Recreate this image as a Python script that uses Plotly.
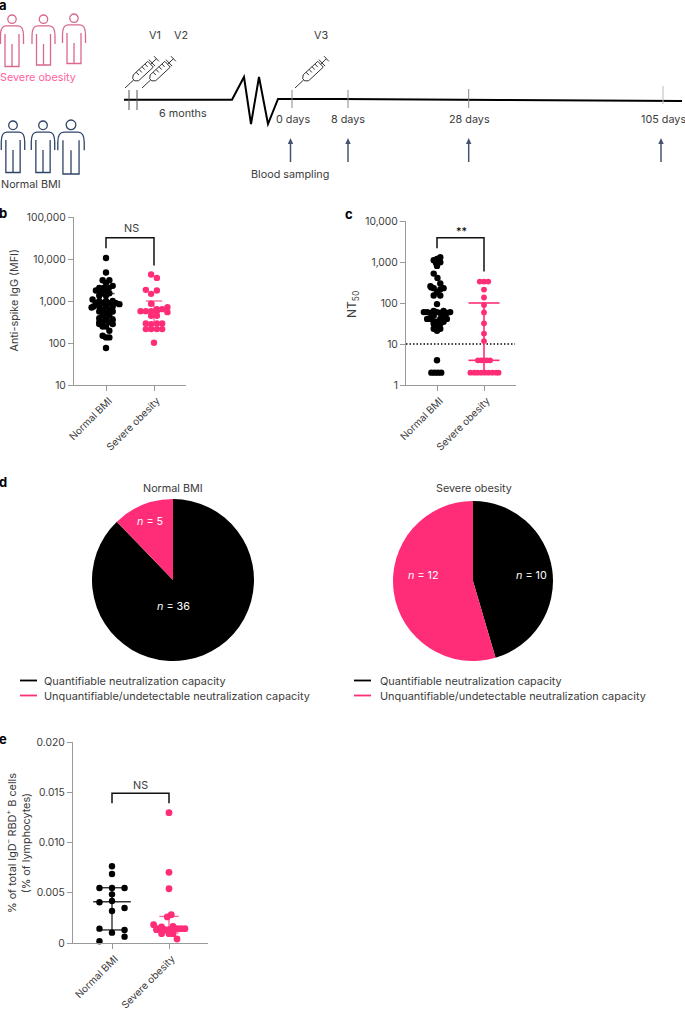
import math
import plotly.graph_objects as go

## panel b
b_norm_vals = [10600, 4760, 3126, 3126, 2703, 2293, 2056, 2056, 2056, 1775, 1775, 1775, 1535, 1535, 1351, 1351,
               1086, 1009, 1009, 1009, 889, 889, 889, 889, 841, 740, 740, 740, 740, 701, 617, 617, 563, 563, 514,
               452, 452, 391, 357, 357, 314, 314, 314, 282, 282, 248, 248, 195, 149, 136, 136, 76]
b_norm_off = [0, 0, -.07, .07, 0, .14, -.14, -.05, .06, -.21, -.12, 0, -.07, .07, -.14, 0,
              -.28, -.14, 0, .14, -.21, -.07, .07, .21, .28, -.26, -.14, 0, .14, -.30, -.07, .07, -.14, .14, 0,
              -.07, .07, -.14, 0, .14, -.14, -.07, .07, -.14, .14, -.07, 0, .07, -.07, 0, .07, 0]
b_sev_vals = [4266, 3550, 1841, 1775, 1480, 857, 713, 640, 640, 573, 573, 573, 573, 543, 445, 445,
              292, 292, 292, 280, 214, 214, 214, 214, 101]
b_sev_off = [-.06, .06, -.17, .06, -.06, -.06, .28, .06, .17, -.28, -.17, -.06, .06, .28, -.06, .06,
             -.17, .06, .17, -.06, -.17, -.06, .06, .17, 0]
b_norm_bar = [420, 800, 1500]
b_sev_bar = [290, 570, 1000]

## panel c
c_norm_vals = [1305, 1189, 1100, 986, 950, 803, 522, 410, 298, 257, 230, 230, 215, 240, 183, 152, 152, 94,
               64, 64, 60, 60, 60, 60, 57, 57, 57, 49, 49, 41, 41, 41, 41, 35, 35, 35, 31, 31, 27, 23.5, 23.5, 21,
               4, 2, 2, 2, 2]
c_norm_off = [.07, 0, -.07, .07, -.02, 0, -.07, .01, .07, -.14, -.07, .14, .07, -.12, 0, -.07, .07, 0,
              -.07, .14, -.28, -.21, 0, .28, -.14, .07, .21, -.07, .14, -.21, -.14, .07, .21, -.07, 0, .14, -.07, .07, 0, -.07, .07, 0,
              0, -.12, -.05, .02, .09]
c_sev_vals = [334, 334, 334, 213, 136, 90, 59, 32, 18, 11.8, 4, 4, 4, 4, 4,
              2, 2, 2, 2, 2, 2, 2, 2, 2]
c_sev_off = [-.09, 0, .09, 0, 0, 0, 0, 0, 0, 0, -.13, -.06, 0, .06, .13,
             -.29, -.21, -.14, -.06, .02, .1, .18, .26, .31]
c_sev_bar = [2, 4, 100]
c_limit = 10

## panel d
d_labels = ['Quantifiable neutralization capacity', 'Unquantifiable/undetectable neutralization capacity']
d_norm = [36, 5]
d_sev = [10, 12]

## panel e
e_norm_vals = [.00763, .00687, .00547, .00547, .00547, .00484, .00418, .00405, .00348, .00318, .00143, .00129, .00103, .00063, .00017]
e_norm_off = [0, 0, -.22, 0, .22, 0, 0, -.22, .22, 0, -.22, .22, 0, .22, -.22]
e_sev_vals = [.01297, .00703, .0054, .00282, .00259, .00182, .00166, .00159, .00143, .00143, .00143, .00143, .00133, .00133, .00133,
              .00123, .00123, .00113, .00093, .00093, .00093, .0004]
e_sev_off = [0, 0, 0, .04, -.03, -.27, .07, -.13, .28, .21, .14, -.21, -.22, -.07, 0,
             -.13, .07, 0, -.13, 0, .07, .14]
e_norm_bar = [.0013, .0041, .0055]
e_sev_bar = [.0010, .0014, .00265]

cats = ['Normal BMI', 'Severe obesity']
black = '#000000'
pink = '#ff2d78'
pink2 = '#ff6a9c'
navy = '#2f4468'
grey = '#9a9a9a'
txt = '#3c3c3c'
font = 'Inter'

fig = go.Figure()


def dots(x0, vals, off, col, ax, size=6.4):
    fig.add_trace(go.Scatter(x=[x0 + o for o in off], y=vals, mode='markers', xaxis='x' + ax, yaxis='y' + ax,
                             marker=dict(color=col, size=size, line=dict(width=0)), cliponaxis=False))


def bars(x0, bar, col, ax, w_mid, w_cap, lw=1.4):
    lo, mid, hi = bar
    xs = [x0, x0, None, x0 - w_mid, x0 + w_mid, None, x0 - w_cap, x0 + w_cap, None, x0 - w_cap, x0 + w_cap]
    ys = [lo, hi, None, mid, mid, None, lo, lo, None, hi, hi]
    fig.add_trace(go.Scatter(x=xs, y=ys, mode='lines', xaxis='x' + ax, yaxis='y' + ax,
                             line=dict(color=col, width=lw), cliponaxis=False))


def bracket(ys, ax):
    fig.add_trace(go.Scatter(x=[0, 0, 1, 1], y=ys, mode='lines', xaxis='x' + ax, yaxis='y' + ax,
                             line=dict(color='#111111', width=1.5), cliponaxis=False))


# b
bars(0, b_norm_bar, '#555555', '', .3, .18)
bars(1, b_sev_bar, pink2, '', .17, .17)
dots(0, b_norm_vals, b_norm_off, black, '')
dots(1, b_sev_vals, b_sev_off, pink, '')
bracket([18000, 32000, 32000, 7000], '')

# c
fig.add_trace(go.Scatter(x=[-.66, 1.66], y=[c_limit, c_limit], mode='lines', xaxis='x2', yaxis='y2',
                         line=dict(color=black, width=1.5, dash='1.5px,2px')))
bars(1, c_sev_bar, pink, '2', .33, .33, 1.6)
dots(0, c_norm_vals, c_norm_off, black, '2')
dots(1, c_sev_vals, c_sev_off, pink, '2', 5.8)
bracket([2160, 3900, 3900, 584], '2')

# e
bars(0, e_norm_bar, '#333333', '3', .33, .22)
bars(1, e_sev_bar, pink2, '3', .17, .17)
dots(0, e_norm_vals, e_norm_off, black, '3')
dots(1, e_sev_vals, e_sev_off, pink, '3', 6.8)
bracket([.0139, .0149, .0149, .0139], '3')


# d pies, centres and radius in page pixels
def pie(vals, cx, cy, r):
    fig.add_trace(go.Pie(values=vals, labels=d_labels, sort=False, direction='clockwise', rotation=0,
                         marker=dict(colors=[black, pink], line=dict(width=0)), textinfo='none',
                         domain=dict(x=[(cx - r) / 685, (cx + r) / 685], y=[1 - (cy + r) / 1009, 1 - (cy - r) / 1009])))


pie(d_norm, 173, 580, 81)
pie(d_sev, 473, 581, 80)


def yax(top, bot, **kw):
    return dict(domain=[1 - bot / 1009, 1 - top / 1009], showline=True, linecolor=grey, linewidth=1.2, ticks='outside',
                ticklen=5, tickcolor=grey, tickfont=dict(family=font, size=10.3, color=txt), showgrid=False,
                zeroline=False, automargin=False, **kw)


def xax(left, right, c0, c1):
    step = c1 - c0
    return dict(domain=[left / 685, right / 685], range=[(left - c0) / step, (right - c0) / step], tickvals=[0, 1],
                ticktext=cats, tickangle=-45, showline=True, linecolor=grey, linewidth=1.2, ticks='outside', ticklen=5,
                tickcolor=grey, tickfont=dict(family=font, size=10, color=txt), showgrid=False, zeroline=False,
                automargin=False, ticklabelshift=3)


# whole page overlay in pixels for the schematic and the texts
P = dict(xref='x4', yref='y4')
shapes = []
ann = []


def line(xs, ys, col=black, w=1.0):
    d = 'M' + ' L'.join(f'{a:.1f},{b:.1f}' for a, b in zip(xs, ys))
    shapes.append(dict(type='path', path=d, line=dict(color=col, width=w), **P))


def text(x, y, s, size=10.8, col=txt, anchor='center', angle=0, bold=False):
    # left anchored annotations sit 3px in from their x
    ann.append(dict(x=x, y=y, text=f'<b>{s}</b>' if bold else s, showarrow=False, xanchor=anchor, yanchor='middle',
                    xshift=-3 if anchor == 'left' else 0, textangle=angle,
                    font=dict(family=font, size=size, color=col), **P))


def person(cx, top, bot, col, k=1.0):
    r = 4.2 * k
    hy = top + r
    shapes.append(dict(type='circle', x0=cx - r, x1=cx + r, y0=hy - r, y1=hy + r, line=dict(color=col, width=1.3), **P))
    sy = hy + r + 2.5
    ax = 11.5 * k
    path = (f'M{cx - ax},{sy + 18} L{cx - ax},{sy + 10} Q{cx - ax},{sy} {cx - 6 * k},{sy} L{cx + 6 * k},{sy} '
            f'Q{cx + ax},{sy} {cx + ax},{sy + 10} L{cx + ax},{sy + 18} '
            f'M{cx - 7 * k},{sy + 8} L{cx - 7 * k},{bot} L{cx + 7 * k},{bot} L{cx + 7 * k},{sy + 8} '
            f'M{cx},{sy + 18} L{cx},{bot}')
    shapes.append(dict(type='path', path=path, line=dict(color=col, width=1.3), **P))


def syringe(tx, ty):
    ux, uy = .73, -.68
    vx, vy = .68, .73

    def pt(u, v):
        return tx + ux * u + vx * v, ty + uy * u + vy * v

    def seg(*pts):
        xy = [pt(*p) for p in pts]
        line([a for a, _ in xy], [b for _, b in xy], '#333333', 1)

    seg((0, 0), (12, 0))
    seg((12, -1.5), (15, -4), (35, -4), (35, 4), (15, 4), (12, 1.5), (12, -1.5))
    for u in (19, 23, 27, 31):
        seg((u, -4), (u, 0))
    seg((35, 0), (43, 0))
    seg((37, -4.5), (37, 4.5))
    seg((43, -3.5), (43, 3.5))


for cx, top, bot, k in [(12, 15, 66.5, 1), (43.5, 15, 65, 1), (74, 14, 63.5, 1)]:
    person(cx, top, bot, '#d9688b', k)
for cx, top, bot, k in [(13, 121, 172.5, 1.02), (43, 121, 172.5, 1.02), (71, 120, 174, 1.15)]:
    person(cx, top, bot, navy, k)
for tx in (125, 142, 295):
    syringe(tx, 88)

line([124, 232, 244, 251, 259, 268, 278, 340, 500, 682], [99.7, 99.7, 77, 124, 77, 124, 99, 99, 100, 101], black, 2)
for x, y0, y1, c in [(129, 90, 110, '#555555'), (137, 90, 110, '#555555'), (292, 90, 108, '#888888'),
                     (348, 90, 108, '#888888'), (468.7, 89, 108, '#888888'), (663, 86, 104, '#bbbbbb')]:
    line([x, x], [y0, y1], c, 1)
for x in (290.5, 348, 468.7, 661):
    line([x, x], [162, 142], '#44546f', 1.5)
    shapes.append(dict(type='path', path=f'M{x - 2.7},{144} L{x},{138} L{x + 2.7},{144} Z', fillcolor='#44546f',
                       line=dict(width=0), **P))

text(155, 35, 'V1')
text(181, 35, 'V2')
text(321, 35, 'V3')
text(183, 113, '6 months')
text(293, 119, '0 days')
text(348, 119, '8 days')
text(469, 119, '28 days')
text(663, 119, '105 days')
text(290, 174, 'Blood sampling')
text(1, 77, 'Severe obesity', col='#ff5fa0', anchor='left')
text(2, 184, 'Normal BMI', anchor='left')
for x, y, s in [(0, 5, 'a'), (0, 213, 'b'), (346, 214, 'c'), (0, 482, 'd'), (0, 739, 'e')]:
    text(x, y, s, size=13, col=black, anchor='left', bold=True)

text(13.5, 301, 'Anti-spike IgG (MFI)', angle=-90)
text(352, 305, 'NT<sub>50</sub>', size=12, angle=-90)
text(18, 843, '% of total IgD<sup>–</sup> RBD<sup>+</sup> B cells<br>(% of lymphocytes)', angle=-90)
text(131, 228, 'NS')
text(461, 231, '**', size=11, col=black)
text(140, 785, 'NS')

text(173, 488, 'Normal BMI')
text(474, 488, 'Severe obesity')
for x, y, s in [(173, 606, '36'), (150, 521, '5'), (531, 575, '10'), (423, 575, '12')]:
    text(x, y, f'<i>n</i> = {s}', col='white')
for x0, xt, xl in [(20, 45, 45), (354, 381, 381)]:
    for y, c, lab in zip((680.5, 695.5), (black, pink), d_labels):
        line([x0, x0 + 17], [y, y], c, 1.8)
        text(xt, y, lab, size=10.9, anchor='left')

fig.update_layout(
    width=685, height=1009, margin=dict(l=0, r=0, t=0, b=0), showlegend=False, paper_bgcolor='white',
    plot_bgcolor='rgba(0,0,0,0)', autosize=False, shapes=shapes, annotations=ann,
    xaxis=xax(74, 186, 106, 154),
    yaxis=yax(217, 385, type='log', range=[1, 5], tickvals=[10, 100, 1000, 10000, 100000],
              ticktext=['10', '100', '1,000', '10,000', '100,000']),
    xaxis2=dict(xax(406, 516, 437, 484), anchor='y2'),
    yaxis2=yax(221, 385, type='log', range=[0, 4], tickvals=[1, 10, 100, 1000, 10000],
               ticktext=['1', '10', '100', '1,000', '10,000'], anchor='x2'),
    xaxis3=dict(xax(73, 208, 112, 169), anchor='y3'),
    yaxis3=yax(742, 943, range=[0, .02], tickvals=[0, .005, .01, .015, .02],
               ticktext=['0', '0.005', '0.010', '0.015', '0.020'], anchor='x3'),
    xaxis4=dict(domain=[0, 1], range=[0, 685], visible=False, anchor='y4', automargin=False),
    yaxis4=dict(domain=[0, 1], range=[1009, 0], visible=False, anchor='x4', automargin=False),
)
fig.add_trace(go.Scatter(x=[0], y=[0], xaxis='x4', yaxis='y4', mode='markers', marker=dict(opacity=0), hoverinfo='skip'))
# the page's default body margin would push the fixed size plot off its spot
fig.write_html('out.html', config={'displayModeBar': False}, post_script="document.body.style.margin='0';")
